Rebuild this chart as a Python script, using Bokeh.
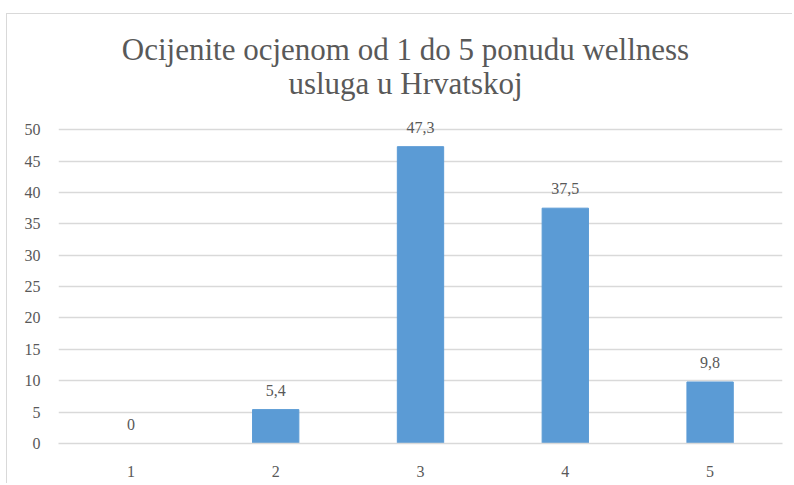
from bokeh.plotting import figure
from bokeh.models import ColumnDataSource, Label, FixedTicker, LabelSet
from bokeh.core.properties import value
from bokeh.embed import file_html
from bokeh.resources import INLINE

categories = ["1", "2", "3", "4", "5"]
values = [0, 5.4, 47.3, 37.5, 9.8]
value_labels = ["0", "5,4", "47,3", "37,5", "9,8"]
y_ticks = [0, 5, 10, 15, 20, 25, 30, 35, 40, 45, 50]
title_lines = ["Ocijenite ocjenom od 1 do 5 ponudu wellness", "usluga u Hrvatskoj"]

FONT = "Liberation Serif"
TXT = "#595959"

src = ColumnDataSource(dict(cat=categories, val=values, lab=value_labels))

p = figure(x_range=categories, y_range=(0, 68.2), width=786, height=470,
           output_backend="svg", toolbar_location=None,
           min_border_left=51, min_border_right=11, min_border_top=1, min_border_bottom=41,
           styles={"margin-left": "6px", "margin-top": "13px",
                   "border-left": "1.5px solid #D9D9D9", "border-top": "1.5px solid #D9D9D9"})
p.outline_line_color = None
p.background_fill_color = "white"
p.border_fill_color = "white"

p.vbar(x="cat", top="val", width=0.32, source=src, color="#5B9BD5")

labels = LabelSet(x="cat", y="val", text="lab", source=src, text_align="center",
                  text_baseline="alphabetic", y_offset=14, text_font=value(FONT),
                  text_font_size="16px", text_color=TXT)
p.add_layout(labels)

p.yaxis.ticker = FixedTicker(ticks=y_ticks)
p.yaxis.axis_line_color = None
p.yaxis.major_tick_line_color = None
p.yaxis.minor_tick_line_color = None
p.yaxis.major_label_text_font = FONT
p.yaxis.major_label_text_font_size = "16px"
p.yaxis.major_label_text_color = TXT
p.yaxis.major_label_standoff = 12

p.xaxis.axis_line_color = "#D9D9D9"
p.xaxis.axis_line_width = 1.5
p.xaxis.major_tick_line_color = None
p.xaxis.minor_tick_line_color = None
p.xaxis.major_label_text_font = FONT
p.xaxis.major_label_text_font_size = "16px"
p.xaxis.major_label_text_color = TXT
p.xaxis.major_label_standoff = 16

p.xgrid.grid_line_color = None
p.ygrid.grid_line_color = "#D9D9D9"
p.ygrid.grid_line_width = 1.5

for line, yv in zip(title_lines, [62.8, 57.4]):
    p.add_layout(Label(x=2.5, y=yv, x_offset=-15, text=line, text_align="center",
                       text_baseline="alphabetic", text_font=FONT,
                       text_font_size="31px", text_color=TXT))

open("out.html", "w").write(file_html(p, INLINE))
